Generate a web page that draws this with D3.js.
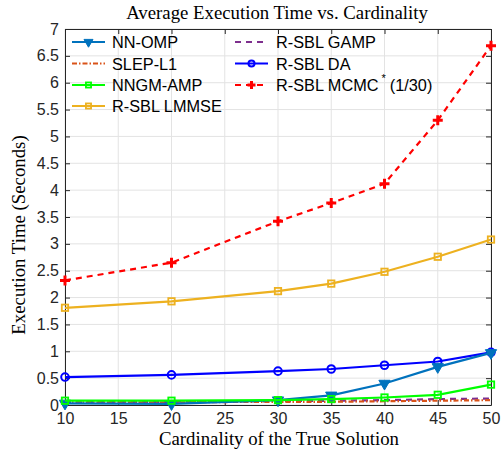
<!DOCTYPE html>
<html><head><meta charset="utf-8">
<script src="https://cdn.jsdelivr.net/npm/d3@7"></script>
<style>body{margin:0;background:#fff}</style>
</head><body>
<svg id="c" width="501" height="449"></svg>
<script>
const cardinality = [10, 20, 30, 35, 40, 45, 50];
const nnOmp   = [0.03, 0.02, 0.09, 0.18, 0.40, 0.71, 0.97];
const slepL1  = [0.05, 0.05, 0.06, 0.06, 0.07, 0.08, 0.09];
const nngmAmp = [0.08, 0.08, 0.09, 0.11, 0.14, 0.19, 0.38];
const lmmse   = [1.81, 1.93, 2.12, 2.26, 2.48, 2.76, 3.08];
const gamp    = [0.05, 0.06, 0.07, 0.08, 0.09, 0.11, 0.12];
const rsblDa  = [0.52, 0.56, 0.63, 0.67, 0.74, 0.81, 0.98];
const mcmc    = [2.32, 2.65, 3.42, 3.76, 4.12, 5.30, 6.69];
const xTicks = [10, 15, 20, 25, 30, 35, 40, 45, 50];
const yTicks = [0, 0.5, 1, 1.5, 2, 2.5, 3, 3.5, 4, 4.5, 5, 5.5, 6, 6.5, 7];

const series = [
  {name: "NN-OMP", vals: nnOmp, color: "#0072BD", dash: null, marker: "tri"},
  {name: "SLEP-L1", vals: slepL1, color: "#D95319", dash: "5,2,1.5,2", marker: null},
  {name: "NNGM-AMP", vals: nngmAmp, color: "#00FF00", dash: null, marker: "sq"},
  {name: "R-SBL LMMSE", vals: lmmse, color: "#EDB120", dash: null, marker: "sq"},
  {name: "R-SBL GAMP", vals: gamp, color: "#7E2F8E", dash: "6,5", marker: null},
  {name: "R-SBL DA", vals: rsblDa, color: "#0000FF", dash: null, marker: "circ"},
  {name: "R-SBL MCMC", vals: mcmc, color: "#FF0000", dash: "6,5", marker: "plus"}
];
const drawOrder = [4, 1, 3, 6, 5, 0, 2];

const L = 65, R = 491, T = 29, B = 405;
const svg = d3.select("#c");
const x = d3.scaleLinear().domain([10, 50]).range([L, R]);
const y = d3.scaleLinear().domain([0, 7]).range([B, T]);

// grid
const g = svg.append("g");
g.selectAll(".gx").data(xTicks).join("line")
  .attr("x1", d => x(d)).attr("x2", d => x(d)).attr("y1", T).attr("y2", B)
  .attr("stroke", "#e3e3e3").attr("stroke-width", 1);
g.selectAll(".gy").data(yTicks).join("line")
  .attr("y1", d => y(d)).attr("y2", d => y(d)).attr("x1", L).attr("x2", R)
  .attr("stroke", "#e3e3e3").attr("stroke-width", 1);

// axes
const fontSans = "Liberation Sans, Arial, sans-serif";
const xa = svg.append("g").attr("transform", `translate(0,${B})`)
  .call(d3.axisBottom(x).tickValues(xTicks).tickSizeInner(-5).tickSizeOuter(0).tickPadding(8));
const xt = svg.append("g").attr("transform", `translate(0,${T})`)
  .call(d3.axisTop(x).tickValues(xTicks).tickSizeInner(-5).tickSizeOuter(0).tickFormat(""));
const ya = svg.append("g").attr("transform", `translate(${L},0)`)
  .call(d3.axisLeft(y).tickValues(yTicks).tickSizeInner(-5).tickSizeOuter(0).tickPadding(6).tickFormat(d3.format("")));
const yr = svg.append("g").attr("transform", `translate(${R},0)`)
  .call(d3.axisRight(y).tickValues(yTicks).tickSizeInner(-5).tickSizeOuter(0).tickFormat(""));
[xa, xt, ya, yr].forEach(a => {
  a.select(".domain").attr("stroke", "#262626").attr("stroke-width", 1);
  a.selectAll(".tick line").attr("stroke", "#262626");
  a.selectAll("text").attr("font-family", fontSans).attr("font-size", 16).attr("fill", "#262626");
});

// lines
const line = d3.line().x((d, i) => x(cardinality[i])).y(d => y(d));
const plot = svg.append("g");
function marker(sel, type, color, small) {
  const k = small ? 0.8 : 1;
  if (type === "tri") {
    sel.append("path").attr("d", d3.symbol(d3.symbolTriangle, 55 * k * k)())
      .attr("transform", "rotate(180)").attr("fill", color).attr("stroke", color);
  } else if (type === "sq") {
    const h = 3.2 * k;
    sel.append("rect").attr("x", -h).attr("y", -h).attr("width", 2 * h).attr("height", 2 * h)
      .attr("fill", "none").attr("stroke", color).attr("stroke-width", 1.8);
  } else if (type === "circ") {
    sel.append("circle").attr("r", 3.8 * k).attr("fill", "none").attr("stroke", color).attr("stroke-width", 2);
  } else if (type === "plus") {
    const h = 5 * k;
    sel.append("path").attr("d", `M${-h},0H${h}M0,${-h}V${h}`).attr("stroke", color).attr("stroke-width", 3);
  }
}
drawOrder.forEach(k => {
  const s = series[k];
  plot.append("path").datum(s.vals).attr("d", line)
    .attr("fill", "none").attr("stroke", s.color).attr("stroke-width", 2.2)
    .attr("stroke-dasharray", s.dash);
  if (s.marker) {
    s.vals.forEach((v, i) => {
      const m = plot.append("g").attr("transform", `translate(${x(cardinality[i])},${y(v)})`);
      marker(m, s.marker, s.color, false);
    });
  }
});

// legend
const leg = svg.append("g");
const rows = [42, 63.5, 85, 106];
series.forEach((s, i) => {
  const col = i < 4 ? 0 : 1;
  const row = i < 4 ? i : i - 4;
  const lx = col === 0 ? 72 : 235;
  const ly = rows[row];
  const gg = leg.append("g");
  gg.append("line").attr("x1", lx).attr("x2", lx + 33).attr("y1", ly).attr("y2", ly)
    .attr("stroke", s.color).attr("stroke-width", 2.2).attr("stroke-dasharray", s.dash);
  if (s.marker) {
    const m = gg.append("g").attr("transform", `translate(${lx + 16.5},${ly})`);
    marker(m, s.marker, s.color, true);
  }
  const t = gg.append("text").attr("x", col === 0 ? lx + 40 : lx + 41).attr("y", ly + 6)
    .attr("font-family", fontSans).attr("font-size", 16.3).attr("fill", "#000");
  t.append("tspan").text(s.name);
  if (s.name === "R-SBL MCMC") {
    t.append("tspan").attr("dx", 3).attr("dy", -9).attr("font-size", 11).text("*");
    t.append("tspan").attr("dx", 4).attr("dy", 9).attr("font-size", 16.3).text("(1/30)");
  }
});

// titles
const serif = "Liberation Serif, Times New Roman, serif";
svg.append("text").attr("x", 277).attr("y", 19).attr("text-anchor", "middle")
  .attr("font-family", serif).attr("font-size", 18.8).text("Average Execution Time vs. Cardinality");
svg.append("text").attr("x", 279).attr("y", 445).attr("text-anchor", "middle")
  .attr("font-family", serif).attr("font-size", 18.8).text("Cardinality of the True Solution");
svg.append("text").attr("transform", "translate(25,235) rotate(-90)").attr("text-anchor", "middle")
  .attr("font-family", serif).attr("font-size", 18.8).text("Execution Time (Seconds)");
</script>
</body></html>
